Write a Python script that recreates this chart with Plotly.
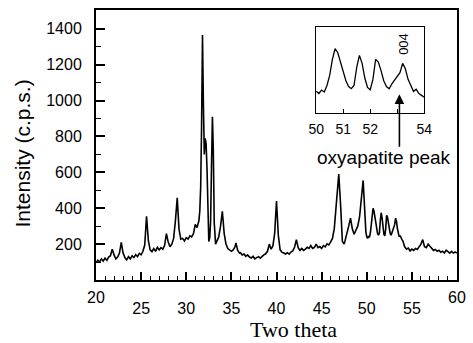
import plotly.graph_objects as go

# ---- data ----
two_theta = [
    20.0, 20.2, 20.4, 20.6, 20.8, 21.0, 21.2, 21.4, 21.6, 21.8,
    22.0, 22.2, 22.4, 22.6, 22.8, 23.0, 23.2, 23.4, 23.6, 23.8,
    24.0, 24.2, 24.4, 24.6, 24.8, 25.0, 25.2, 25.4, 25.6, 25.8,
    26.0, 26.2, 26.4, 26.6, 26.8, 27.0, 27.2, 27.4, 27.6, 27.8,
    28.0, 28.2, 28.4, 28.6, 28.8, 29.0, 29.2, 29.4, 29.6, 29.8,
    30.0, 30.2, 30.4, 30.6, 30.8, 31.0, 31.2, 31.4, 31.5, 31.6,
    31.7, 31.8, 31.9, 32.0, 32.1, 32.2, 32.3, 32.4, 32.5, 32.6,
    32.7, 32.8, 32.9, 33.0, 33.1, 33.25, 33.4, 33.6, 33.8, 34.0,
    34.2, 34.4, 34.6, 34.8, 35.0, 35.2, 35.4, 35.5, 35.7, 35.9,
    36.0, 36.2, 36.4, 36.6, 36.8, 37.0, 37.2, 37.4, 37.6, 37.8,
    38.0, 38.2, 38.4, 38.6, 38.8, 39.0, 39.2, 39.4, 39.6, 39.8,
    40.0, 40.2, 40.4, 40.6, 40.8, 41.0, 41.2, 41.4, 41.6, 41.8,
    42.0, 42.2, 42.4, 42.6, 42.8, 43.0, 43.2, 43.4, 43.6, 43.8,
    44.0, 44.2, 44.4, 44.6, 44.8, 45.0, 45.2, 45.4, 45.6, 45.8,
    46.0, 46.2, 46.4, 46.6, 46.9, 47.1, 47.3, 47.5, 47.7, 47.9,
    48.0, 48.2, 48.4, 48.6, 48.8, 49.0, 49.2, 49.4, 49.6, 49.7,
    49.8, 49.9, 50.0, 50.1, 50.2, 50.3, 50.4, 50.5, 50.6, 50.7,
    50.8, 50.9, 51.0, 51.1, 51.2, 51.3, 51.4, 51.5, 51.6, 51.7,
    51.8, 51.9, 52.0, 52.1, 52.2, 52.3, 52.4, 52.5, 52.6, 52.7,
    52.8, 52.9, 53.0, 53.1, 53.2, 53.3, 53.4, 53.5, 53.6, 53.7,
    53.8, 53.9, 54.0, 54.2, 54.4, 54.6, 54.8, 55.0, 55.2, 55.4,
    55.6, 55.8, 56.0, 56.2, 56.4, 56.6, 56.8, 57.0, 57.2, 57.4,
    57.6, 57.8, 58.0, 58.2, 58.4, 58.6, 58.8, 59.0, 59.2, 59.4,
    59.6, 59.8, 60.0,
]
intensity = [
    96, 110, 100, 118, 105, 122, 110, 128, 135, 172,
    140, 118, 128, 150, 210, 150, 125, 112, 130, 118,
    135, 125, 142, 130, 148, 140, 160, 195, 355, 220,
    168, 158, 175, 160, 182, 168, 180, 172, 192, 258,
    212, 185, 200, 232, 330, 458, 282, 228, 232, 218,
    236, 228, 246, 240, 258, 310, 292, 330, 385, 520,
    860, 1365, 980, 700, 790, 760, 620, 330, 215, 235,
    330, 640, 910, 720, 320, 200, 215, 240, 300, 383,
    260, 200, 175, 165, 160, 168, 185, 207, 165, 150,
    152, 140, 145, 132, 140, 128, 122, 132, 118, 125,
    130, 122, 134, 140, 146, 160, 200, 172, 190, 262,
    440, 250, 168, 155, 150, 145, 152, 144, 156, 162,
    182, 225, 180, 165, 176, 165, 172, 182, 176, 192,
    176, 182, 200, 180, 186, 176, 192, 185, 202, 196,
    212, 232, 285, 430, 590, 420, 215, 200, 235, 280,
    300, 345, 285, 255, 275, 300, 350, 470, 555, 460,
    330, 270, 240, 232, 245, 238, 262, 300, 360, 400,
    385, 352, 318, 280, 258, 250, 262, 330, 375, 345,
    290, 255, 246, 285, 360, 350, 318, 280, 258, 250,
    268, 282, 298, 310, 345, 325, 285, 262, 240, 248,
    232, 225, 218, 185, 172, 178, 162, 172, 165, 176,
    170, 186, 200, 225, 186, 180, 200, 188, 175, 165,
    170, 160, 166, 155, 160, 150, 166, 156, 150, 160,
    150, 156, 150,
]

x_ticks = [20, 25, 30, 35, 40, 45, 50, 55, 60]
x_tick_labels = ["20", "25", "30", "35", "40", "45", "50", "55", "60"]
y_ticks = [200, 400, 600, 800, 1000, 1200, 1400]
y_tick_labels = ["200", "400", "600", "800", "1000", "1200", "1400"]

inset_ticks = [50, 51, 52, 53, 54]
inset_tick_labels = ["50", "51", "52", "", "54"]
inset_lo, inset_hi = 50.0, 54.0

inset_x = [t for t in two_theta if inset_lo <= t <= inset_hi]
inset_y = [v for t, v in zip(two_theta, intensity) if inset_lo <= t <= inset_hi]

FONT = "Liberation Sans, Arial, sans-serif"
SERIF = "Liberation Serif, Times New Roman, serif"

W, H = 473, 343
L, R, T, B = 96, 13, 8, 63
pw, ph = W - L - R, H - T - B


def px(xp, yp):
    return (xp - L) / pw, (H - B - yp) / ph


fig = go.Figure()
fig.add_trace(go.Scatter(x=two_theta, y=intensity, mode="lines",
                         line=dict(color="black", width=1.6),
                         xaxis="x", yaxis="y", showlegend=False))
fig.add_trace(go.Scatter(x=inset_x, y=inset_y, mode="lines",
                         line=dict(color="black", width=1.3),
                         xaxis="x2", yaxis="y2", showlegend=False))

# the end tick labels (20 and 60) sit a little higher in the original
ends = (x_ticks[0], x_ticks[-1])
main_ticktext = ["" if v in ends else t for v, t in zip(x_ticks, x_tick_labels)]

annotations = []
for v, t in zip(x_ticks, x_tick_labels):
    if v in ends:
        annotations.append(dict(x=v, y=0, xref="x", yref="paper", text=t, showarrow=False,
                                xanchor="center", yanchor="middle", yshift=-17,
                                font=dict(family=FONT, size=16, color="black")))

ax_, ay_ = px(22, 153)
xt, yt = px(295, 330)
ox, oy = px(386, 157)
annotations += [
    dict(text="Intensity (c.p.s.)", x=ax_, y=ay_, xref="paper", yref="paper", showarrow=False,
         textangle=-90, xanchor="center", yanchor="middle",
         font=dict(family=FONT, size=21, color="black")),
    dict(text="Two theta", x=xt, y=yt, xref="paper", yref="paper", showarrow=False,
         xanchor="center", yanchor="middle",
         font=dict(family=SERIF, size=22, color="black")),
    dict(text="oxyapatite peak", x=ox, y=oy, xref="paper", yref="paper", showarrow=False,
         xanchor="center", yanchor="middle",
         font=dict(family=FONT, size=19, color="black")),
    dict(text="", x=53.08, y=229, xref="x2", yref="y2", showarrow=True,
         ax=0, ay=54, axref="pixel", ayref="pixel",
         arrowhead=2, arrowsize=1.2, arrowwidth=1.6, arrowcolor="black"),
    dict(text="004", x=53.23, y=420, xref="x2", yref="y2", showarrow=False,
         textangle=-90, font=dict(family=FONT, size=13, color="black")),
]

fig.update_layout(
    width=W, height=H,
    margin=dict(l=L, r=R, t=T, b=B),
    paper_bgcolor="white", plot_bgcolor="white",
    font=dict(family=FONT, size=16, color="black"),
    xaxis=dict(range=[20, 60], tickvals=x_ticks, ticktext=main_ticktext,
               ticks="inside", ticklen=8, tickwidth=1.5, tickcolor="black",
               minor=dict(dtick=1, ticks="inside", ticklen=4, tickwidth=1.2, tickcolor="black"),
               showline=True, linewidth=2, linecolor="black", mirror=True,
               showgrid=False, zeroline=False, ticklabelstandoff=13,
               tickfont=dict(family=FONT, size=16, color="black")),
    yaxis=dict(range=[0, 1505], tickvals=y_ticks, ticktext=y_tick_labels,
               ticks="inside", ticklen=9, tickwidth=1.5, tickcolor="black",
               minor=dict(dtick=100, ticks="inside", ticklen=5, tickwidth=1.2, tickcolor="black"),
               showline=True, linewidth=2, linecolor="black", mirror=True,
               showgrid=False, zeroline=False, ticklabelstandoff=9,
               tickfont=dict(family=FONT, size=16, color="black")),
    xaxis2=dict(domain=[(318 - L) / pw, (427 - L) / pw], anchor="y2",
                range=[inset_lo, inset_hi], tickvals=inset_ticks, ticktext=inset_tick_labels,
                ticks="inside", ticklen=4, tickwidth=1, tickcolor="black",
                showline=True, linewidth=1.2, linecolor="black", mirror=True,
                showgrid=False, zeroline=False, ticklabelstandoff=3,
                tickfont=dict(family=FONT, size=14, color="black")),
    yaxis2=dict(domain=[(H - B - 112) / ph, (H - B - 25) / ph], anchor="x2",
                range=[158, 482], showticklabels=False, ticks="",
                showline=True, linewidth=1.2, linecolor="black", mirror=True,
                showgrid=False, zeroline=False),
    annotations=annotations,
)

fig.write_html("out.html",
               config={"displayModeBar": False},
               post_script="document.body.style.margin='0';document.body.style.overflow='hidden';")
